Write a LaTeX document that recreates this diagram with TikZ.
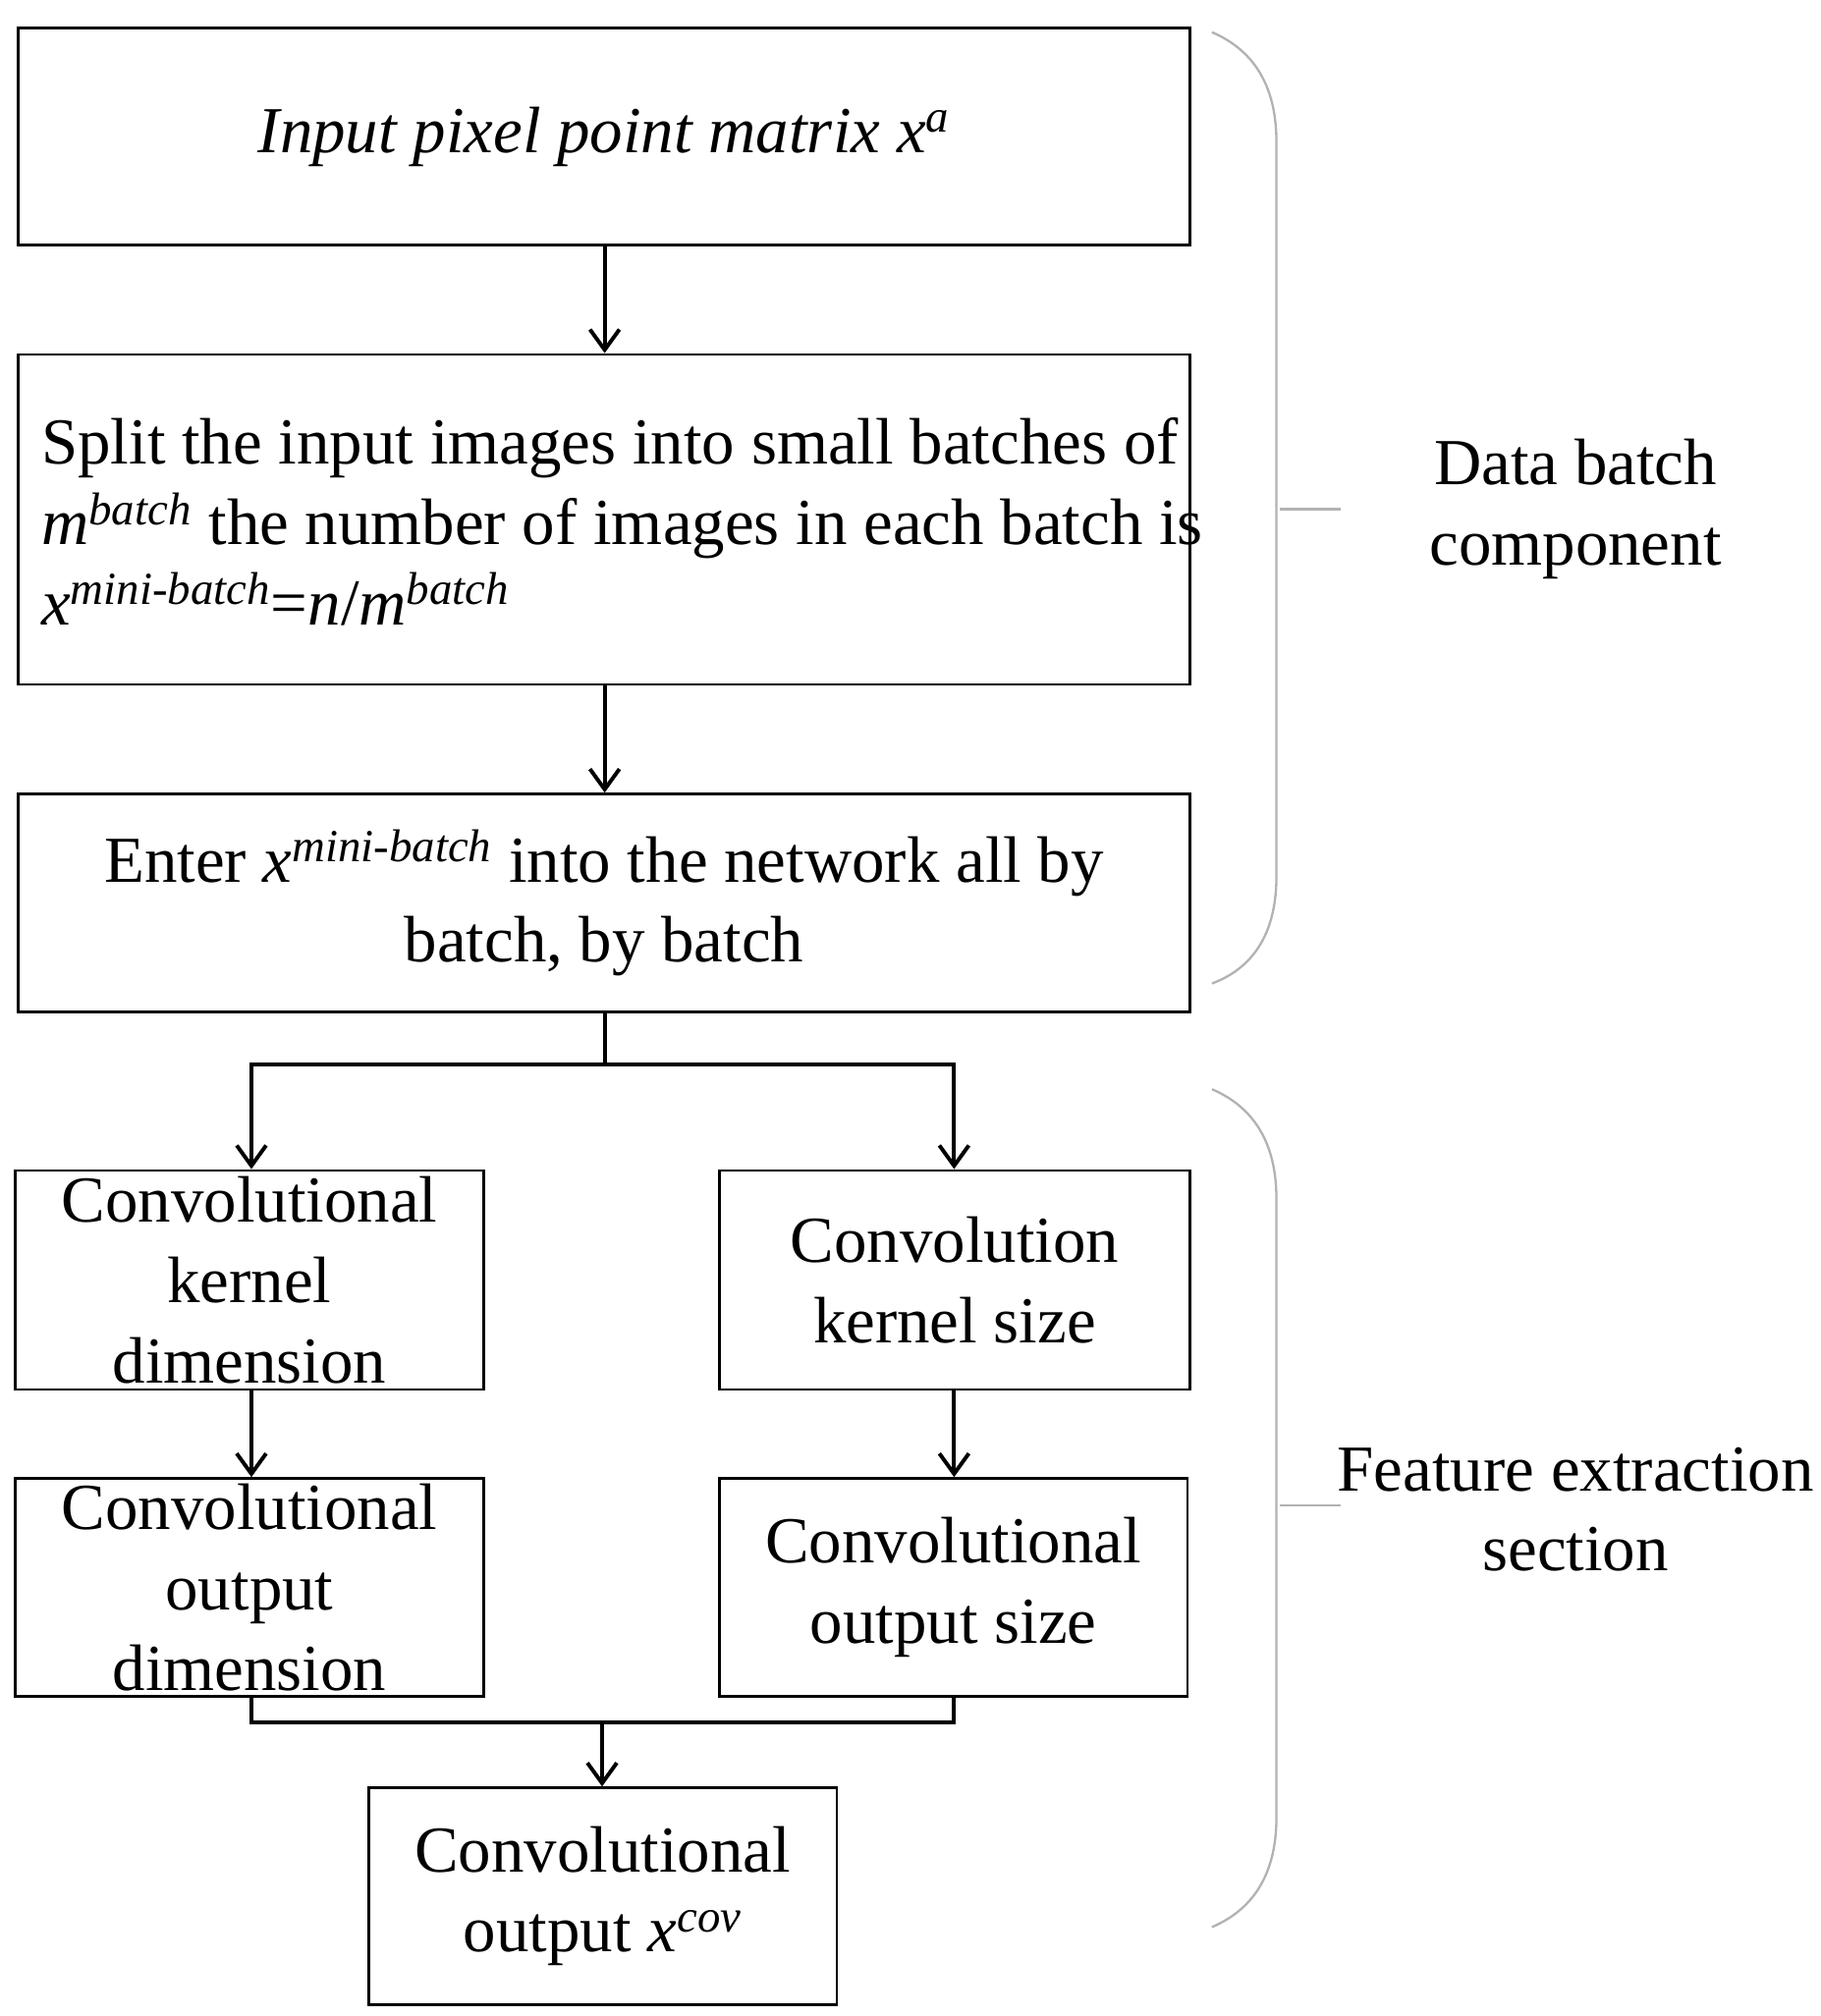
\documentclass[tikz,border=0pt]{standalone}
\usepackage{fontspec}
\setmainfont{Liberation Serif}
\usetikzlibrary{arrows.meta}
\begin{document}
\begin{tikzpicture}[x=0.02cm,y=-0.02cm,
 box/.style={draw,line width=1.2pt,inner sep=0pt,align=center,font=\fontsize{29}{35.5}\selectfont},
 ar/.style={line width=1.7pt,-{Straight Barb[length=9pt,width=13pt,line width=1.7pt]}},
 ln/.style={line width=1.7pt},
 br/.style={draw=gray!60,line width=1pt},
 lab/.style={align=center,font=\fontsize{29}{35.5}\selectfont}]
\newcommand{\sps}[1]{\textsuperscript{\itshape #1}}
\useasboundingbox (0,0) rectangle (1412,1564);
\node[box,minimum width=909*0.02cm,minimum height=168*0.02cm] (b1) at (468.5,106) {\itshape Input pixel point matrix x\sps{a}};
\node[box,minimum width=909*0.02cm,minimum height=256*0.02cm] (b2) at (468.5,403) {};
\node[lab,align=left,anchor=west] (t2) at (26,405) {Split the input images into small batches of\\ \textit{m}\sps{batch} the number of images in each batch is\\ \textit{x}\sps{mini-batch}=\textit{n}/\textit{m}\sps{batch}};
\node[box,minimum width=909*0.02cm,minimum height=169*0.02cm] (b3) at (468.5,700.5) {Enter \textit{x}\sps{mini-batch} into the network all by\\batch, by batch};
\node[box,minimum width=363*0.02cm,minimum height=170*0.02cm] (b4) at (193.5,993) {Convolutional\\kernel\\dimension};
\node[box,minimum width=365*0.02cm,minimum height=170*0.02cm] (b5) at (740.5,993) {Convolution\\kernel size};
\node[box,minimum width=363*0.02cm,minimum height=169*0.02cm] (b6) at (193.5,1231.5) {Convolutional\\output\\dimension};
\node[box,minimum width=363*0.02cm,minimum height=169*0.02cm] (b7) at (739.5,1231.5) {Convolutional\\output size};
\node[box,minimum width=363*0.02cm,minimum height=168*0.02cm] (b8) at (467.5,1471) {Convolutional\\output \textit{x}\sps{cov}};
\draw[ar] (b1.south -| 469,0) -- (b2.north -| 469,0);
\draw[ar] (b2.south -| 469,0) -- (b3.north -| 469,0);
\coordinate (s1) at (469,826);
\coordinate (s2) at (195,826);
\coordinate (s3) at (740,826);
\draw[ln] (b3.south -| 469,0) -- (s1);
\draw[ar] (s1) -- (s2) -- (b4.north -| s2);
\draw[ar] (s1) -- (s3) -- (b5.north -| s3);
\draw[ar] (b4.south -| 195,0) -- (b6.north -| 195,0);
\draw[ar] (b5.south -| 740,0) -- (b7.north -| 740,0);
\coordinate (m1) at (195,1336);
\coordinate (m2) at (740,1336);
\coordinate (m3) at (467,1336);
\draw[ln] (b6.south -| m1) -- (m1) -- (m2) -- (b7.south -| m2);
\draw[ar] (m3) -- (b8.north -| m3);
\draw[br] (940,25) .. controls (975,40) and (990,70) .. (990,110) -- (990,680) .. controls (990,720) and (975,750) .. (940,763);
\draw[br] (993,395) -- (1040,395);
\draw[br] (940,845) .. controls (975,860) and (990,890) .. (990,930) -- (990,1410) .. controls (990,1450) and (975,1480) .. (940,1495);
\draw[br] (993,1168) -- (1040,1168);
\node[lab] (l1) at (1222,395) {Data batch\\component};
\node[lab] (l2) at (1222,1171) {Feature extraction\\section};
\end{tikzpicture}
\end{document}
